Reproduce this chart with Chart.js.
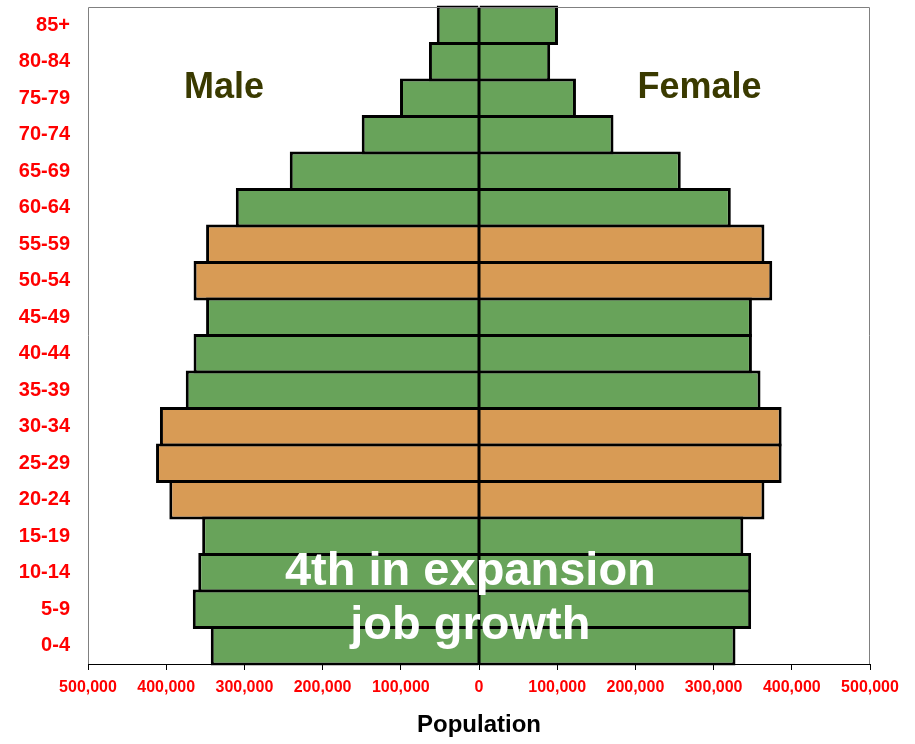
<!DOCTYPE html>
<html>
<head>
<meta charset="utf-8">
<script src="https://cdn.jsdelivr.net/npm/chart.js@4"></script>
<style>
  html, body { margin: 0; padding: 0; background: #fff; }
  #wrap { width: 915px; height: 744px; position: relative; }
</style>
</head>
<body>
<div id="wrap"><canvas id="pyramid"></canvas></div>
<script>
// age groups, top to bottom
const ageGroups = ['85+', '80-84', '75-79', '70-74', '65-69', '60-64', '55-59', '50-54', '45-49',
                   '40-44', '35-39', '30-34', '25-29', '20-24', '15-19', '10-14', '5-9', '0-4'];
const male =   [54000, 64000, 101000, 150000, 242000, 311000, 349000, 365000, 349000,
                365000, 375000, 408000, 413000, 396000, 354000, 359000, 366000, 343000];
const female = [101000, 91000, 124000, 172000, 258000, 322000, 365000, 375000, 349000,
                349000, 360000, 387000, 387000, 365000, 338000, 348000, 348000, 328000];
// highlighted groups (drawn orange)
const highlight = ['55-59', '50-54', '30-34', '25-29', '20-24'];
const xTicks = [-500000, -400000, -300000, -200000, -100000, 0, 100000, 200000, 300000, 400000, 500000];

const GREEN = '#68a35a';
const ORANGE = '#d89b55';
const FONT = 'Arial, "Liberation Sans", sans-serif';
const barColors = ageGroups.map(a => highlight.includes(a) ? ORANGE : GREEN);

const fmt = v => Math.abs(v).toLocaleString('en-US');

// frame, zero line and the text overlays
const overlay = {
    id: 'overlay',
    afterDatasetsDraw(chart) {
        const { ctx, chartArea: a, scales: { x } } = chart;
        ctx.save();
        ctx.lineWidth = 3;
        ctx.strokeStyle = '#000';
        const x0 = x.getPixelForValue(0);
        ctx.beginPath();
        ctx.moveTo(x0, a.top);
        ctx.lineTo(x0, a.bottom);
        ctx.stroke();

        ctx.lineWidth = 1;
        ctx.strokeStyle = '#808080';
        ctx.beginPath();
        ctx.moveTo(a.left + 0.5, a.bottom);
        ctx.lineTo(a.left + 0.5, a.top + 0.5);
        ctx.lineTo(a.right - 0.5, a.top + 0.5);
        ctx.lineTo(a.right - 0.5, a.bottom);
        ctx.stroke();
        ctx.strokeStyle = '#000';
        ctx.beginPath();
        ctx.moveTo(a.left, a.bottom + 0.5);
        ctx.lineTo(a.right, a.bottom + 0.5);
        ctx.stroke();

        ctx.textAlign = 'center';
        ctx.textBaseline = 'alphabetic';
        ctx.fillStyle = '#3a3a00';
        ctx.font = 'bold 36px ' + FONT;
        ctx.fillText('Male', x.getPixelForValue(-326000), 98);
        ctx.fillText('Female', x.getPixelForValue(282000), 98);

        ctx.fillStyle = '#fff';
        ctx.font = 'bold 47px ' + FONT;
        ctx.fillText('4th in expansion', x.getPixelForValue(-11000), 585);
        ctx.fillText('job growth', x.getPixelForValue(-11000), 639);
        ctx.restore();
    }
};

const common = {
    backgroundColor: barColors,
    borderColor: '#000',
    borderWidth: 3,
    categoryPercentage: 1,
    barPercentage: 1.082,
    clip: false
};

new Chart(document.getElementById('pyramid'), {
    type: 'bar',
    data: {
        labels: ageGroups,
        datasets: [
            { label: 'Male', data: male.map(v => -v), ...common },
            { label: 'Female', data: female, ...common }
        ]
    },
    options: {
        indexAxis: 'y',
        responsive: true,
        maintainAspectRatio: false,
        animation: false,
        layout: { padding: { top: 7, right: 45, left: 0, bottom: 0 } },
        plugins: { legend: { display: false }, tooltip: { enabled: false } },
        scales: {
            x: {
                stacked: true,
                min: -500000,
                max: 500000,
                afterBuildTicks: s => { s.ticks = xTicks.map(v => ({ value: v })); },
                afterFit: s => { s.height = 80; },
                grid: { drawOnChartArea: false, tickLength: 6, color: '#000', tickColor: '#000' },
                border: { display: false },
                ticks: {
                    color: '#ff0000',
                    font: { family: FONT, size: 16, weight: 'bold' },
                    padding: 8,
                    maxRotation: 0,
                    autoSkip: false,
                    callback: v => fmt(v)
                },
                title: {
                    display: true,
                    text: 'Population',
                    color: '#000',
                    font: { family: FONT, size: 24, weight: 'bold' },
                    padding: { top: 0, bottom: 4 }
                }
            },
            y: {
                stacked: true,
                afterFit: s => { s.width = 88; s.paddingTop = 0; s.paddingBottom = 0; },
                grid: { display: false, drawTicks: false },
                border: { display: false },
                ticks: {
                    color: '#ff0000',
                    font: { family: FONT, size: 20, weight: 'bold' },
                    padding: 18,
                    autoSkip: false
                }
            }
        }
    },
    plugins: [overlay]
});
</script>
</body>
</html>
